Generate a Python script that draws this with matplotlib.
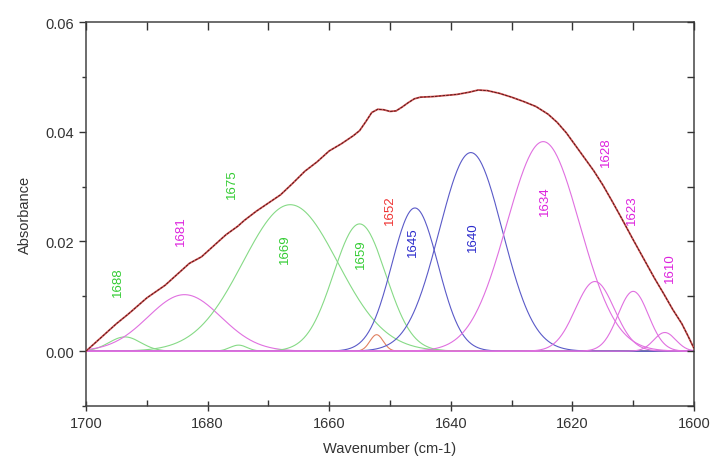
import numpy as np
import matplotlib.pyplot as plt
from matplotlib.ticker import MultipleLocator

plt.rcParams['font.family'] = ['Liberation Sans', 'DejaVu Sans']

env_x = [1700, 1699, 1697, 1695, 1693, 1690, 1687, 1685, 1683, 1681, 1679, 1677,
         1675, 1674, 1672, 1670, 1668, 1666, 1664, 1662, 1660, 1658, 1656, 1655,
         1654, 1653, 1652, 1651, 1650, 1649, 1648, 1647, 1646, 1645, 1643, 1641,
         1639, 1637, 1635.5, 1634, 1632, 1630, 1628, 1626, 1624, 1622.5, 1621,
         1619.5, 1618, 1616.5, 1615, 1613.5, 1612, 1610, 1608, 1606.5, 1605,
         1603.5, 1602, 1601, 1600]
env_y = [0.0, 0.0010, 0.0030, 0.0050, 0.0068, 0.0097, 0.0120, 0.0140, 0.0160,
         0.0172, 0.0192, 0.0212, 0.0228, 0.0238, 0.0255, 0.0270, 0.0285, 0.0306,
         0.0328, 0.0345, 0.0365, 0.0378, 0.0393, 0.0402, 0.0418, 0.0435, 0.0441,
         0.0440, 0.0437, 0.0438, 0.0445, 0.0453, 0.0460, 0.0463, 0.0464, 0.0466,
         0.0468, 0.0472, 0.0476, 0.0475, 0.0470, 0.0463, 0.0455, 0.0446, 0.0432,
         0.0417, 0.0398, 0.0375, 0.0352, 0.0329, 0.0303, 0.0274, 0.0244, 0.0203,
         0.0163, 0.0133, 0.0105, 0.0076, 0.0050, 0.0028, 0.0005]

# fitted gaussian components
peak_labels = ['1688', '1681', '1675', '1669', '1659', '1652',
               '1645', '1640', '1634', '1628', '1623', '1610']
peak_center = [1693.6, 1683.8, 1674.9, 1666.4, 1655.0, 1652.2,
               1645.9, 1636.7, 1624.8, 1616.3, 1610.0, 1604.8]
peak_height = [0.0026, 0.0103, 0.0011, 0.0267, 0.0232, 0.0030,
               0.0261, 0.0362, 0.0382, 0.0127, 0.0109, 0.0034]
peak_sigma = [2.6, 6.0, 1.4, 7.8, 4.3, 1.1,
              3.8, 5.2, 6.0, 3.2, 2.5, 1.8]
peak_group = ['g', 'm', 'g', 'g', 'g', 'r', 'b', 'b', 'm', 'm', 'm', 'm']

# label anchor positions
label_x = [1694.7, 1684.3, 1676.0, 1667.3, 1654.7, 1650.0,
           1646.2, 1636.3, 1624.5, 1614.4, 1610.25, 1604.0]
label_y = [0.0127, 0.0221, 0.0307, 0.0188, 0.0179, 0.0258,
           0.0200, 0.0209, 0.0276, 0.0365, 0.0258, 0.0154]

line_col = {'g': '#86da86', 'm': '#e070e0', 'b': '#5a5ac8', 'r': '#e08060'}
text_col = {'g': '#33cc33', 'm': '#dd22dd', 'b': '#2a2acc', 'r': '#ee3333'}

fig = plt.figure(figsize=(7.14, 4.64), dpi=100)
ax = fig.add_axes([0.1204, 0.1228, 0.8516, 0.8276])

wn = np.linspace(1600, 1700, 801)
ax.axhline(0, color='#66ee66', lw=1.2, zorder=1)
for c, h, s, g in zip(peak_center, peak_height, peak_sigma, peak_group):
    ax.plot(wn, h * np.exp(-(wn - c) ** 2 / (2 * s ** 2)), color=line_col[g], lw=0.8, zorder=2)

ax.plot(env_x, env_y, color='#d05050', lw=1.3, zorder=3)
ax.plot(env_x, env_y, color='#4a1515', lw=0.6, dashes=(3, 1.5), zorder=4)

for lab, x, y, g in zip(peak_labels, label_x, label_y, peak_group):
    ax.text(x, y, lab, rotation=90, color=text_col[g], fontsize=9.5,
            ha='center', va='center')

ax.set_xlim(1700, 1600)
ax.set_ylim(-0.01, 0.06)
ax.xaxis.set_major_locator(MultipleLocator(20))
ax.xaxis.set_minor_locator(MultipleLocator(10))
ax.yaxis.set_major_locator(MultipleLocator(0.02))
ax.yaxis.set_minor_locator(MultipleLocator(0.01))
ax.yaxis.set_major_formatter(lambda v, p: f'{v:.2f}')

ax.tick_params(axis='both', which='both', colors='#333333', labelsize=10.5, width=1)
ax.tick_params(axis='x', which='major', direction='inout', length=7)
ax.tick_params(axis='x', which='minor', direction='in', length=4)
ax.tick_params(axis='y', which='major', direction='out', length=5)
ax.tick_params(axis='y', which='minor', direction='out', length=3)
for sp in ax.spines.values():
    sp.set_color('#444444')
    sp.set_linewidth(1.1)

# inward ticks on top and right
axr = ax.twinx()
axr.set_ylim(ax.get_ylim())
axr.yaxis.set_major_locator(MultipleLocator(0.01))
axr.tick_params(axis='y', direction='in', length=5, width=1, colors='#333333', labelright=False)
axt = ax.twiny()
axt.set_xlim(ax.get_xlim())
axt.xaxis.set_major_locator(MultipleLocator(20))
axt.xaxis.set_minor_locator(MultipleLocator(10))
axt.tick_params(axis='x', which='both', direction='in', length=6, width=1, colors='#333333', labeltop=False)
for a in (axr, axt):
    for sp in a.spines.values():
        sp.set_visible(False)

ax.set_xlabel('Wavenumber (cm-1)', fontsize=10.5, color='#333333', labelpad=8)
ax.set_ylabel('Absorbance', fontsize=10.5, color='#333333', labelpad=10)

fig.savefig('out.png', dpi=100)
